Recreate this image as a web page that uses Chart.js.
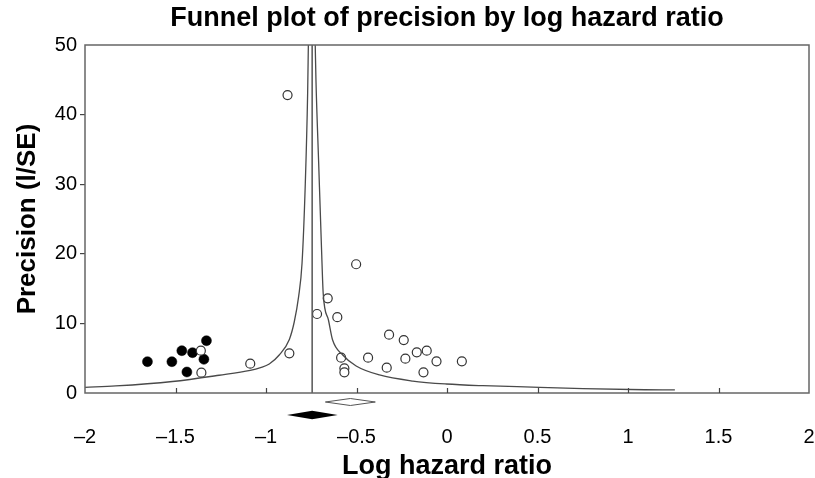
<!DOCTYPE html>
<html>
<head>
<meta charset="utf-8">
<script src="https://cdn.jsdelivr.net/npm/chart.js@4.4.1/dist/chart.umd.min.js"></script>
<style>
  html, body { margin: 0; padding: 0; background: #ffffff; }
  #wrap { width: 815px; height: 478px; }
</style>
</head>
<body>
<div id="wrap"><canvas id="c" width="815" height="478"></canvas></div>
<script>
// ---- Data ----
// Observed studies (open circles): log hazard ratio and precision (1/SE)
const observedLogHR = [-1.360, -1.357, -1.087, -0.881, -0.871, -0.718, -0.659, -0.606, -0.585, -0.567, -0.567, -0.502, -0.436, -0.333, -0.320, -0.239, -0.230, -0.167, -0.130, -0.112, -0.058, 0.082];
const observedPrecision = [6.08, 2.92, 4.21, 42.8, 5.70, 11.35, 13.6, 10.9, 5.07, 3.55, 2.97, 18.5, 5.07, 3.64, 8.38, 7.61, 4.93, 5.84, 2.97, 6.08, 4.55, 4.55];

// Imputed studies (filled circles)
const imputedLogHR = [-1.655, -1.520, -1.465, -1.437, -1.406, -1.343, -1.329];
const imputedPrecision = [4.50, 4.50, 6.08, 3.02, 5.79, 4.84, 7.51];

// Funnel boundary lines
const funnelLeftX = [-2.0, -1.83, -1.517, -1.259, -1.087, -1.03, -0.982, -0.927, -0.871, -0.844, -0.820, -0.801, -0.783, -0.770, -0.766];
const funnelLeftY = [0.82, 1.01, 1.65, 2.55, 3.25, 3.65, 4.17, 5.46, 7.7, 10.2, 13.8, 18.6, 30, 43, 50];
const funnelRightX = [-0.728, -0.724, -0.709, -0.693, -0.684, -0.655, -0.632, -0.576, -0.502, -0.373, -0.189, -0.004, 0.198, 0.512, 0.751, 1.093, 1.259];
const funnelRightY = [50, 44.97, 33.05, 20.55, 14.32, 10.49, 7.61, 5.46, 3.88, 2.59, 1.72, 1.29, 1.05, 0.82, 0.62, 0.47, 0.45];

// Summary diamonds: [observed, adjusted]
const summaryNames = ['Observed', 'Adjusted'];
const summaryCenter = [-0.534, -0.745];
const summaryLow = [-0.672, -0.884];
const summaryHigh = [-0.396, -0.604];
const summaryFilled = [false, true];

// Axis ticks
const xTicks = [-2, -1.5, -1, -0.5, 0, 0.5, 1, 1.5, 2];
const yTicks = [0, 10, 20, 30, 40, 50];

// ---- Build chart ----
const FONT = "'Liberation Sans', Arial, Helvetica, sans-serif";
const zip = (xs, ys) => xs.map((v, i) => ({ x: v, y: ys[i] }));
const fmt = v => (v < 0 ? '\u2013' : '') + String(Math.abs(v));

const framePlugin = {
  id: 'frame',
  afterDatasetsDraw(chart) {
    const { ctx, chartArea: a, scales: { x } } = chart;
    ctx.save();
    ctx.strokeStyle = '#666666';
    ctx.lineWidth = 1.5;
    ctx.strokeRect(a.left, a.top, a.right - a.left, a.bottom - a.top);
    // inner tick marks on the x axis
    ctx.lineWidth = 1.2;
    ctx.strokeStyle = '#444444';
    xTicks.forEach(v => {
      if (v === x.min || v === x.max) return;
      const px = Math.round(x.getPixelForValue(v)) + 0.5;
      ctx.beginPath();
      ctx.moveTo(px, a.bottom);
      ctx.lineTo(px, a.bottom - 5);
      ctx.stroke();
    });
    // summary diamonds below the axis
    const offsets = [9, 22];
    const halfH = [3.5, 4.2];
    summaryCenter.forEach((c, i) => {
      const yc = a.bottom + offsets[i];
      const l = x.getPixelForValue(summaryLow[i]);
      const r = x.getPixelForValue(summaryHigh[i]);
      const m = x.getPixelForValue(c);
      ctx.beginPath();
      ctx.moveTo(l, yc);
      ctx.lineTo(m, yc - halfH[i]);
      ctx.lineTo(r, yc);
      ctx.lineTo(m, yc + halfH[i]);
      ctx.closePath();
      if (summaryFilled[i]) {
        ctx.fillStyle = '#000000';
        ctx.fill();
      } else {
        ctx.fillStyle = '#ffffff';
        ctx.fill();
        ctx.strokeStyle = '#555555';
        ctx.lineWidth = 1;
        ctx.stroke();
      }
    });
    ctx.restore();
  }
};

const pooled = summaryCenter[1];

new Chart(document.getElementById('c'), {
  type: 'scatter',
  data: {
    datasets: [
      {
        label: 'Funnel left',
        data: zip(funnelLeftX, funnelLeftY),
        showLine: true, pointRadius: 0, borderColor: '#4a4a4a', borderWidth: 1.3,
        cubicInterpolationMode: 'monotone'
      },
      {
        label: 'Funnel right',
        data: zip(funnelRightX, funnelRightY),
        showLine: true, pointRadius: 0, borderColor: '#4a4a4a', borderWidth: 1.3,
        cubicInterpolationMode: 'monotone'
      },
      {
        label: 'Pooled',
        data: [{ x: pooled, y: 0 }, { x: pooled, y: 50 }],
        showLine: true, pointRadius: 0, borderColor: '#555555', borderWidth: 1.5
      },
      {
        label: 'Observed',
        data: zip(observedLogHR, observedPrecision),
        pointRadius: 4.5, pointHoverRadius: 4.5,
        backgroundColor: '#ffffff', borderColor: '#333333', borderWidth: 1.2
      },
      {
        label: 'Imputed',
        data: zip(imputedLogHR, imputedPrecision),
        pointRadius: 5, pointHoverRadius: 5,
        backgroundColor: '#000000', borderColor: '#000000', borderWidth: 0.5
      }
    ]
  },
  options: {
    responsive: false,
    animation: false,
    devicePixelRatio: 1,
    layout: { padding: { left: 0, right: 6, top: 0, bottom: 0 } },
    plugins: {
      legend: { display: false },
      tooltip: { enabled: false },
      title: {
        display: true,
        fullSize: false,
        text: 'Funnel plot of precision by log hazard ratio',
        color: '#000000',
        font: { family: FONT, size: 27, weight: 'bold', lineHeight: 1.2 },
        padding: { top: 2, bottom: 10.6 }
      }
    },
    scales: {
      x: {
        type: 'linear',
        min: -2, max: 2,
        afterFit: s => { s.height = 85; s.paddingLeft = 0; s.paddingRight = 0; },
        afterBuildTicks: s => { s.ticks = xTicks.map(v => ({ value: v })); },
        border: { display: false },
        grid: { display: false, drawTicks: false },
        ticks: {
          color: '#000000',
          font: { family: FONT, size: 20 },
          padding: 32,
          maxRotation: 0,
          autoSkip: false,
          callback: v => fmt(v)
        },
        title: {
          display: true,
          text: 'Log hazard ratio',
          color: '#000000',
          font: { family: FONT, size: 27, weight: 'bold', lineHeight: 0.85 },
          padding: { top: 0, bottom: 0 }
        }
      },
      y: {
        type: 'linear',
        min: 0, max: 50,
        afterFit: s => { s.width = 85; s.paddingTop = 0; s.paddingBottom = 0; },
        afterBuildTicks: s => { s.ticks = yTicks.map(v => ({ value: v })); },
        border: { display: false },
        grid: {
          display: true,
          drawOnChartArea: false,
          drawTicks: true,
          tickLength: 5,
          lineWidth: 1.2,
          color: c => (c.tick && (c.tick.value === 0 || c.tick.value === 50)) ? 'rgba(0,0,0,0)' : '#444444'
        },
        ticks: {
          color: '#000000',
          font: { family: FONT, size: 20 },
          padding: 3,
          autoSkip: false,
          callback: v => fmt(v)
        },
        title: {
          display: true,
          text: 'Precision (l/SE)',
          color: '#000000',
          font: { family: FONT, size: 26, weight: 'bold', lineHeight: 0.85 },
          padding: { top: 17, bottom: 0 }
        }
      }
    }
  },
  plugins: [framePlugin]
});
</script>
</body>
</html>
